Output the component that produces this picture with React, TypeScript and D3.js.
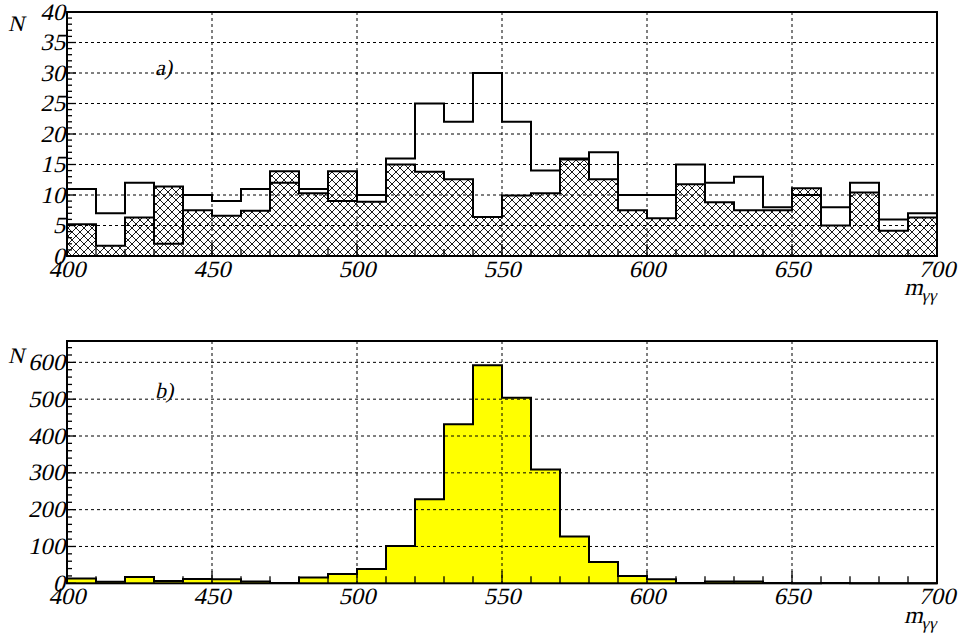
import React from 'react';
import * as d3 from 'd3';

const binEdges = [400, 410, 420, 430, 440, 450, 460, 470, 480, 490, 500, 510, 520, 530, 540, 550, 560, 570, 580, 590, 600, 610, 620, 630, 640, 650, 660, 670, 680, 690, 700];
const totalCounts = [11, 7, 12, 2, 10, 9, 11, 12, 11, 9, 10, 16, 25, 22, 30, 22, 14, 16, 17, 10, 10, 15, 12, 13, 8, 10, 8, 12, 6, 7];
const hatchedCounts = [5.2, 1.7, 6.3, 11.4, 7.5, 6.6, 7.4, 13.9, 10.3, 13.9, 8.9, 15.0, 13.8, 12.6, 6.4, 9.9, 10.3, 15.8, 12.6, 7.5, 6.2, 11.75, 8.8, 7.5, 7.5, 11.1, 5.0, 10.4, 4.15, 6.3];
const signalCounts = [13, 4, 17, 6, 12, 11, 5, 1, 16, 25, 39, 101, 228, 432, 592, 504, 309, 127, 58, 20, 11, 1, 5, 5, 1, 0, 1, 0, 0, 0];
const xTickLabels = [400, 450, 500, 550, 600, 650, 700];
const yTicksA = [0, 5, 10, 15, 20, 25, 30, 35, 40];
const yTicksB = [0, 100, 200, 300, 400, 500, 600];

const W = 961;
const H = 638;
const X0 = 67;
const X1 = 937;
const FONT = 'Liberation Serif';

function IText({ x, y, size, anchor = 'start', sx = 1.05, children }: { x: number; y: number; size: number; anchor?: string; sx?: number; children: React.ReactNode }) {
  return (
    <g transform={`translate(${x},${y}) skewX(-13) scale(${sx},1)`}>
      <text x={0} y={0} textAnchor={anchor as any} fontFamily={FONT} fontSize={size}>{children}</text>
    </g>
  );
}

type PanelProps = {
  top: number;
  bottom: number;
  yMax: number;
  yTicks: number[];
  minorStep: number;
  label: string;
  labelY: number;
  nY: number;
  mY: number;
  children: (x: d3.ScaleLinear<number, number>, y: d3.ScaleLinear<number, number>) => React.ReactNode;
};

function histPath(values: number[], x: d3.ScaleLinear<number, number>, y: d3.ScaleLinear<number, number>) {
  const pts: [number, number][] = [[x(binEdges[0]), y(0)]];
  values.forEach((v, i) => {
    pts.push([x(binEdges[i]), y(v)]);
    pts.push([x(binEdges[i + 1]), y(v)]);
  });
  pts.push([x(binEdges[binEdges.length - 1]), y(0)]);
  return d3.line()(pts) || '';
}

function Panel({ top, bottom, yMax, yTicks, minorStep, label, labelY, nY, mY, children }: PanelProps) {
  const x = d3.scaleLinear().domain([400, 700]).range([X0, X1]);
  const y = d3.scaleLinear().domain([0, yMax]).range([bottom, top]);
  const minorY = d3.range(0, yMax + 1e-9, minorStep);
  const majorStep = yTicks[1] - yTicks[0];
  return (
    <g>
      {children(x, y)}
      {yTicks.filter((t) => t > 0 && y(t) > top + 2).map((t) => (
        <line key={'gy' + t} x1={X0} x2={X1} y1={y(t)} y2={y(t)} stroke="#000" strokeWidth={1} strokeDasharray="3,3" />
      ))}
      {xTickLabels.filter((t) => t > 400 && t < 700).map((t) => (
        <line key={'gx' + t} x1={x(t)} x2={x(t)} y1={top} y2={bottom} stroke="#000" strokeWidth={1} strokeDasharray="3,3" />
      ))}
      {minorY.map((t) => {
        const major = Math.abs(t / majorStep - Math.round(t / majorStep)) < 1e-6;
        return <line key={'ty' + t} x1={X0} x2={X0 + (major ? 9 : 5)} y1={y(t)} y2={y(t)} stroke="#000" strokeWidth={1.3} />;
      })}
      {binEdges.map((t) => {
        const major = t % 50 === 0;
        return <line key={'tx' + t} x1={x(t)} x2={x(t)} y1={bottom} y2={bottom - (major ? 12 : 7)} stroke="#000" strokeWidth={1.3} />;
      })}
      <rect x={X0} y={top} width={X1 - X0} height={bottom - top} fill="none" stroke="#000" strokeWidth={2} />
      {yTicks.map((t) => (
        <IText key={'ly' + t} x={X0 - 2} y={y(t) + 7.5} size={23.5} anchor="end">{t}</IText>
      ))}
      {xTickLabels.map((t) => (
        <IText key={'lx' + t} x={x(t)} y={bottom + 21} size={23.5} anchor="middle">{t}</IText>
      ))}
      <IText x={8} y={nY} size={22} sx={1}>N</IText>
      <IText x={155} y={labelY} size={22} sx={1}>{label}</IText>
      <IText x={904} y={mY} size={24} sx={1}>
        m<tspan fontSize={17} dy={6}>γγ</tspan>
      </IText>
    </g>
  );
}

function Outlines() {
  const x = d3.scaleLinear().domain([400, 700]).range([X0, X1]);
  const yA = d3.scaleLinear().domain([0, 40]).range([256, 12]);
  const yB = d3.scaleLinear().domain([0, 658]).range([583.3, 341]);
  return (
    <g fill="none" stroke="#000" strokeWidth={2}>
      <path d={histPath(hatchedCounts, x, yA)} />
      <path d={histPath(totalCounts, x, yA)} />
      <path d={histPath(signalCounts, x, yB)} />
    </g>
  );
}

export default function App() {
  return (
    <svg width={W} height={H} viewBox={`0 0 ${W} ${H}`} style={{ position: 'absolute', left: 0, top: 0, background: '#fff' }}>
      <defs>
        <pattern id="xhatch" patternUnits="userSpaceOnUse" width={8} height={8}>
          <rect width={8} height={8} fill="#fff" />
          <path d="M0,0 L8,8 M0,8 L8,0" stroke="#000" strokeWidth={0.9} />
        </pattern>
      </defs>
      <rect width={W} height={H} fill="#fff" />
      <Panel top={12} bottom={256} yMax={40} yTicks={yTicksA} minorStep={1} label="a)" labelY={75} nY={31} mY={295}>
        {(x, y) => <path d={histPath(hatchedCounts, x, y)} fill="url(#xhatch)" stroke="none" />}
      </Panel>
      <Panel top={341} bottom={583.3} yMax={658} yTicks={yTicksB} minorStep={20} label="b)" labelY={398} nY={363} mY={623}>
        {(x, y) => <path d={histPath(signalCounts, x, y)} fill="#ffff00" stroke="none" />}
      </Panel>
      <Outlines />
    </svg>
  );
}
